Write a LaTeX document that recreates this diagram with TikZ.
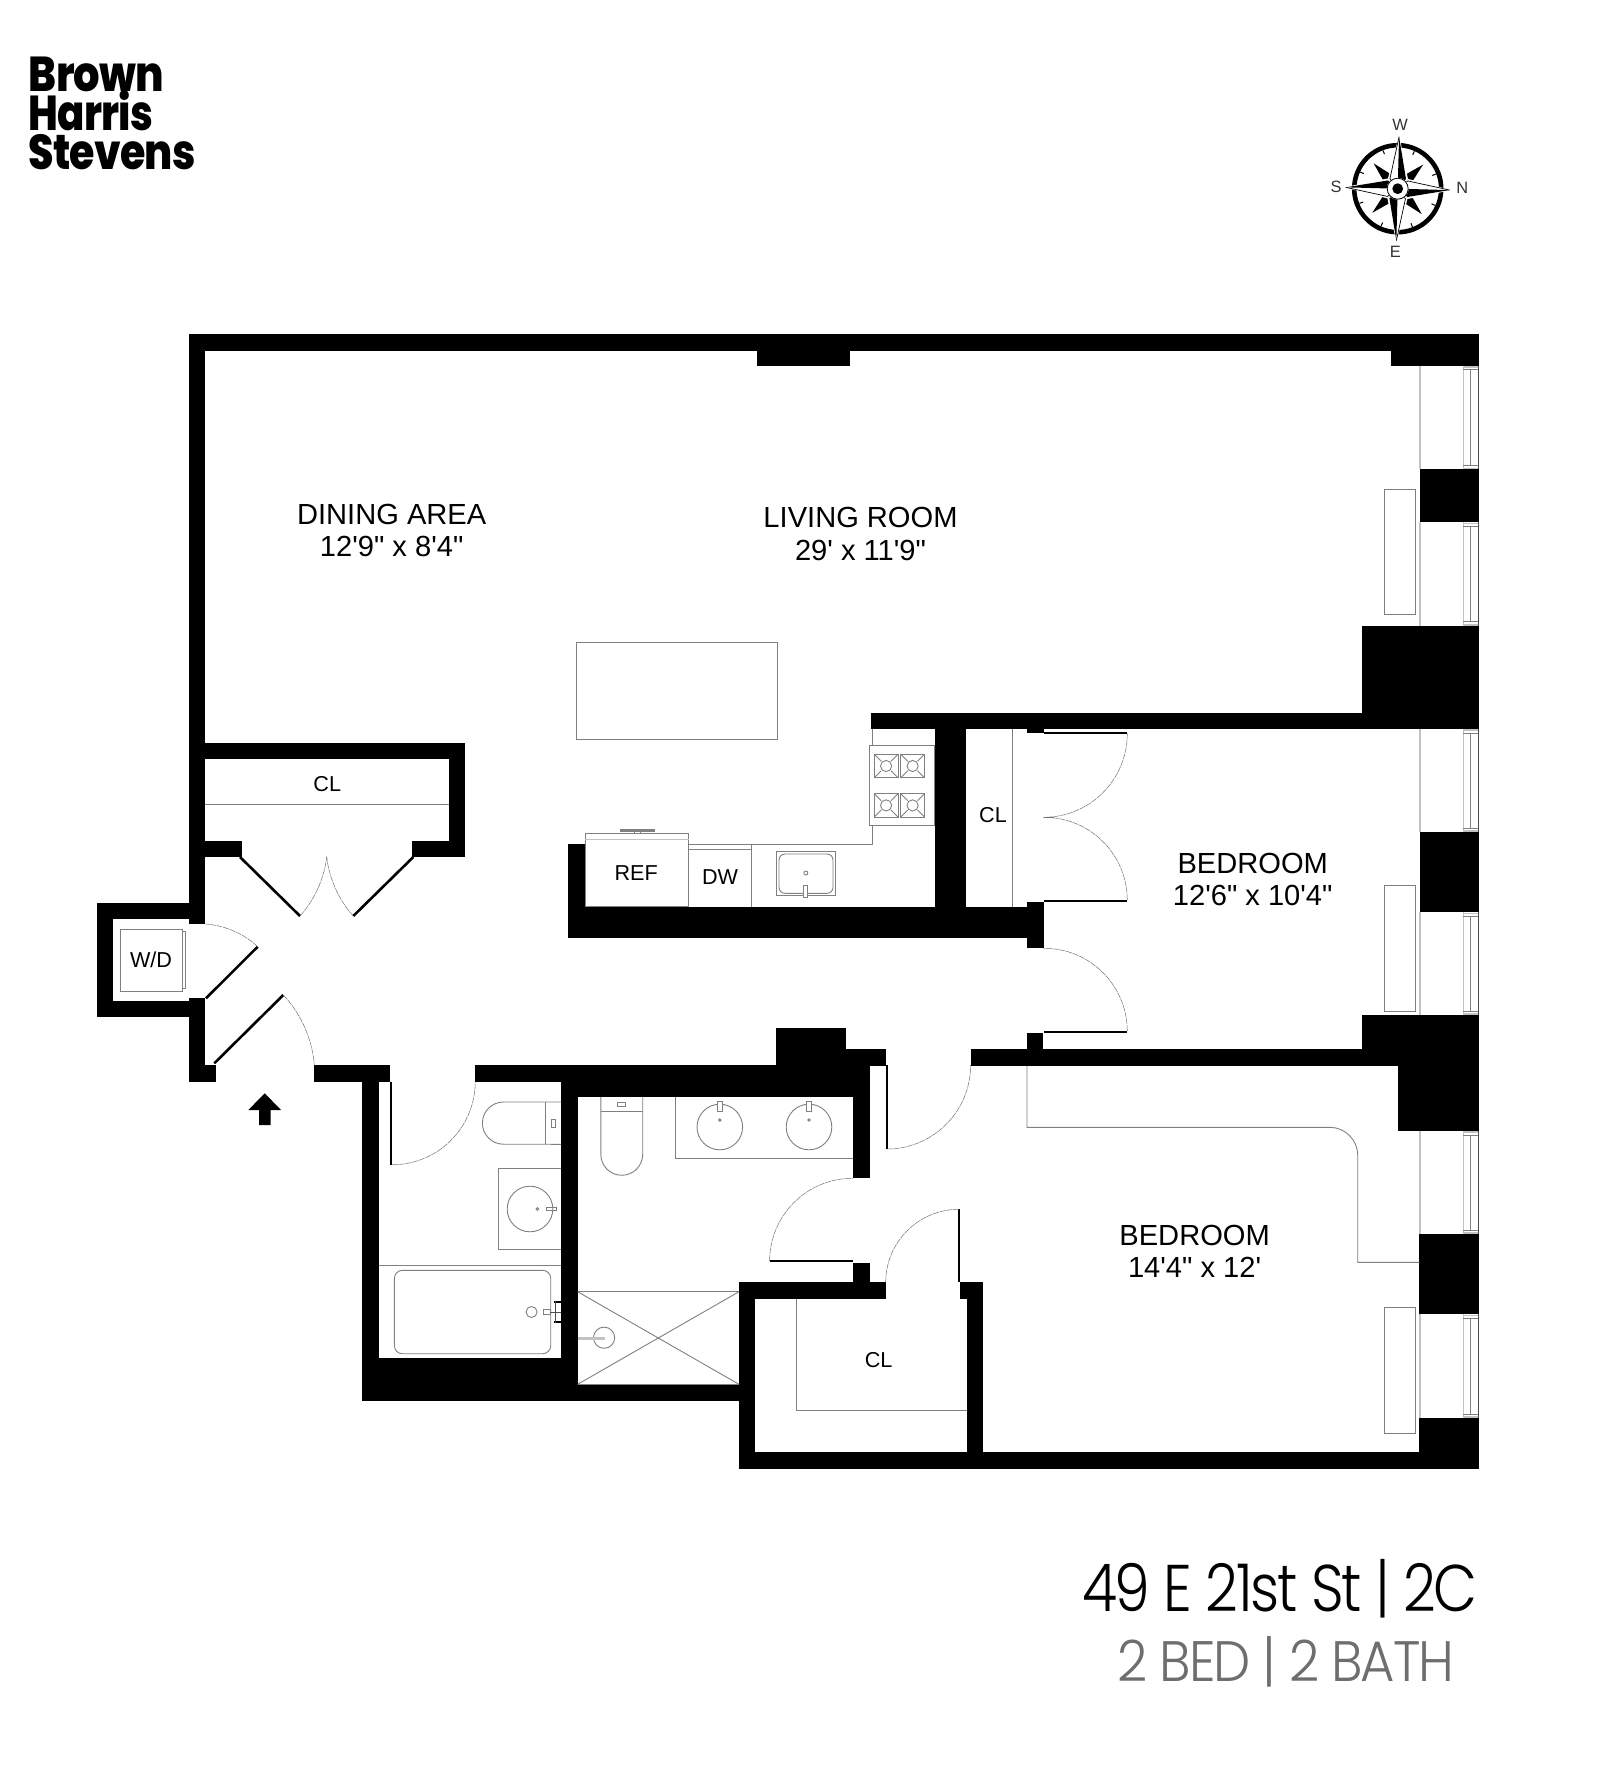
\documentclass[tikz,border=0pt]{standalone}
\usepackage{fontspec}
\usetikzlibrary{calc}
\setmainfont{Liberation Sans}[Ligatures=TeXOff]
\newfontfamily\logofont{Poppins}[UprightFont={* ExtraBold},LetterSpace=-2]
\newfontfamily\titlefont{Poppins}[UprightFont={* Light},LetterSpace=-4]
\newcommand{\wl}[4]{\fill[wallfill] (#1,#2) rectangle (#3,#4);}
\newcommand{\winbay}[2]{%
  \draw[sill] (1420,#1) -- (1420,#2);
  \draw[sill] (1463.3,#1) -- (1463.3,#2);
  \draw[sill] (1463.3,#1+1) -- (1478.3,#1+1);
  \draw[sill] (1463.3,#2-1) -- (1478.3,#2-1);
  \draw[fine] (1470.7,#1+4) -- (1470.7,#2-4);
  \draw[fine] (1463.3,#1+4) -- (1478.3,#1+4);
  \draw[fine] (1463.3,#2-4) -- (1478.3,#2-4);
  \draw[darkline] (1478.3,#1) -- (1478.3,#2);}
\definecolor{linegrey}{HTML}{808080}
\definecolor{sillgrey}{HTML}{C2C2C2}
\definecolor{bathgrey}{HTML}{6D6E6E}
\tikzset{
  wallfill/.style={fill=black},
  fine/.style={draw=linegrey,line width=0.45pt},
  sill/.style={draw=sillgrey,line width=0.8pt},
  darkline/.style={draw=black!70,line width=0.5pt},
  swing/.style={draw=black!55,line width=0.25pt,dash pattern=on 3pt off 0.4pt},
  leaf/.style={draw=black,line width=1.3pt},
  room/.style={font=\fontsize{14.55}{16.3}\selectfont,align=center,inner sep=0pt},
  tag/.style={font=\fontsize{10.8}{12}\selectfont,inner sep=0pt},
  compass/.style={font=\fontsize{8.2}{9}\selectfont,inner sep=0pt,text=black!80},
  logotext/.style={anchor=base west,inner sep=0pt,font=\logofont\fontsize{24.5}{24.5}\selectfont},
}
\begin{document}
\begin{tikzpicture}[x=0.5pt,y=-0.5pt]
\useasboundingbox (0,0) rectangle (1600,1785);
\fill[white] (0,0) rectangle (1600,1785);

% walls
\wl{189}{334}{1479}{350.5}
\wl{757}{350}{850}{365.5}
\wl{1390.7}{350}{1479}{365.7}
\wl{189}{334}{205.3}{924}
\wl{189}{998}{205.3}{1082}
\wl{189}{1065}{216}{1082}
\wl{205}{742.7}{465}{759}
\wl{448.7}{742.7}{465}{857}
\wl{412}{840.7}{465}{857}
\wl{205}{840.7}{242}{857}
\wl{97}{903}{189.5}{919.3}
\wl{97}{903}{113.3}{1017}
\wl{97}{1001}{189.5}{1017}
\wl{314}{1065}{390}{1082}
\wl{362.4}{1065}{379.4}{1401.3}
\wl{362.4}{1358.3}{577.6}{1401.3}
\wl{577}{1384.3}{739.5}{1401.3}
\wl{475.2}{1065}{869.5}{1081.7}
\wl{561}{1065}{869.5}{1097}
\wl{561}{1065}{577.6}{1401.3}
\wl{776.2}{1027.7}{846.3}{1065.5}
\wl{846}{1049.3}{886}{1065.5}
\wl{852.9}{1065}{869.5}{1178.3}
\wl{853}{1262.7}{869.5}{1282.5}
\wl{739}{1282.3}{885.7}{1298.7}
\wl{739}{1282.3}{755.3}{1468.5}
\wl{739}{1451.7}{1479}{1468.5}
\wl{966.5}{1298}{982.7}{1468}
\wl{960.3}{1282.3}{982.7}{1298.7}
\wl{970.6}{1049.3}{1362}{1066}
\wl{1361.7}{1015}{1479}{1066}
\wl{1398.3}{1015}{1479}{1131}
\wl{1361.7}{625.7}{1479}{729}
\wl{871}{712.7}{1362}{729}
\wl{934.7}{729}{966}{907}
\wl{568.2}{906.7}{1027.5}{938.3}
\wl{568.2}{844.3}{585.2}{907}
\wl{1027.3}{902.3}{1043.5}{948.3}
\wl{1027.3}{729}{1043.5}{732.7}
\wl{1027}{1032.7}{1043.3}{1050}
\wl{1419.5}{469.3}{1479}{522.3}
\wl{1420}{832}{1479}{912.3}
\wl{1419.3}{1234}{1479}{1314.3}
\wl{1419.3}{1418}{1479}{1468.5}

% door leaves
\wl{390}{1082}{392}{1164.7}
\wl{886}{1065}{888}{1149}
\wl{769.6}{1259.5}{853}{1262}
\wl{958.3}{1209.3}{960}{1282.3}
\wl{1043.5}{731.7}{1127.3}{734.3}
\wl{1043.5}{899.8}{1127.3}{902.3}
\wl{1043.5}{1030.5}{1127.3}{1033}
\draw[leaf] (240,857) -- (300,916);
\draw[leaf] (413.3,857) -- (353.3,916);
\draw[leaf] (206,998.3) -- (257.7,946.7);
\draw[leaf] (214.3,1063.3) -- (283.3,995);

% door swings
\draw[swing] (392,1164.7) to[bend right=45] (475.2,1082);
\draw[swing] (887,1149) to[bend right=45] (970.6,1065);
\draw[swing] (769.6,1261) to[bend left=45] (853,1178.3);
\draw[swing] (885.7,1282.3) to[bend left=45] (959,1209.3);
\draw[swing] (1127.3,733.3) to[bend left=45] (1043.5,817.3);
\draw[swing] (1127.3,900) to[bend right=45] (1043.5,817.3);
\draw[swing] (1043.5,817.3) -- (1054,817.3);
\draw[swing] (1127.3,1031) to[bend right=45] (1043.5,948.3);
\draw[swing] (283.3,995) to[bend left=20,looseness=0.85] (314.3,1065.3);
\draw[swing] (257.7,946.7) to[bend right=20,looseness=0.85] (205.3,924);
\draw[swing] (300,916) to[bend right=18,looseness=0.85] (326.7,856.7);
\draw[swing] (353.3,916) to[bend left=18,looseness=0.85] (326.7,856.7);

% windows and radiators
\winbay{365.7}{469.3}
\winbay{522.3}{625.7}
\winbay{729}{832}
\winbay{912.3}{1015}
\winbay{1131}{1234}
\winbay{1314.3}{1418}
\draw[fine] (1384.3,489) rectangle (1415,614.7);
\draw[fine] (1384.3,885.7) rectangle (1415,1011);
\draw[fine] (1384.3,1307.7) rectangle (1415,1433.3);

% closets
\draw[fine] (205.3,804.3) -- (448.7,804.3);
\draw[fine] (1012.6,729) -- (1012.6,906.7);
\draw[fine] (796.5,1298.7) -- (796.5,1410.3) -- (966.5,1410.3);
\draw[fine] (1027,1066) -- (1027,1127.3) -- (1330,1127.3)
   .. controls (1345,1127.3) and (1357.7,1140) .. (1357.7,1155)
   -- (1357.7,1262.3) -- (1419.3,1262.3);

% W/D
\draw[fine] (120,929) rectangle (182.3,991.3);
\draw[fine] (182.3,931.3) rectangle (185.3,988.7);

% kitchen
\draw[fine] (576.5,642) rectangle (777.8,739.3);
\draw[fine] (872.6,729) -- (872.6,844.3) -- (688.8,844.3);
\draw[fine] (585,833.3) rectangle (688.8,906.7);
\draw[sill] (585,839.3) -- (688.8,839.3);
\fill[linegrey] (619.6,829.3) rectangle (654.8,831.7);
\draw[fine] (634,831.7) rectangle (640,833.3);
\draw[fine] (688.8,849.7) -- (751.7,849.7);
\draw[fine] (751.7,844.3) -- (751.7,906.7);
\draw[fine,fill=white] (869.5,745.7) rectangle (934.7,825.7);
\foreach \bx/\by in {874.2/754.3,900.7/754.3,874.2/793.7,900.7/793.7}{
  \draw[fine] (\bx,\by) rectangle ++(23.8,23.4);
  \draw[fine] (\bx+11.9,\by+11.7) circle[radius=5.6];
  \draw[fine] (\bx,\by) -- ++(7,7);
  \draw[fine] (\bx+23.8,\by) -- ++(-7,7);
  \draw[fine] (\bx,\by+23.4) -- ++(7,-7);
  \draw[fine] (\bx+23.8,\by+23.4) -- ++(-7,-7);
}
\draw[fine] (776.6,851.7) rectangle (835.5,895.7);
\draw[fine,rounded corners=3pt] (779,854) rectangle (833,893.3);
\draw[fine] (805.8,873) circle[radius=2];
\draw[fine,fill=white] (803.9,885.7) rectangle (807.4,897.3);

% bath one
\draw[fine] (561,1102) -- (503.5,1102) arc[start angle=-90,end angle=-270,radius=21.1] -- (561,1144.3);
\draw[fine] (545.3,1102) -- (545.3,1144.3);
\draw[fine] (551,1119.3) rectangle (555.6,1127.7);
\draw[fine] (561,1168.3) -- (498.4,1168.3) -- (498.4,1249.3) -- (561,1249.3);
\draw[fine] (530,1209) circle[radius=22.8];
\draw[fine] (537.4,1209) circle[radius=1.3];
\draw[fine] (546,1207.7) rectangle (556,1210.3);
\draw[fine] (379.4,1265.3) -- (561,1265.3);
\draw[fine,rounded corners=4pt] (394.4,1270.3) rectangle (550.7,1353.7);
\draw[fine] (531.6,1312) circle[radius=5.5];
\draw[fine] (543,1309.5) rectangle (550,1314.5);
\draw[darkline] (550,1312) -- (561,1312);
\fill[black] (554.4,1300.7) rectangle (561,1303);
\fill[black] (554.4,1320.5) rectangle (561,1322.7);
\draw[darkline] (555.5,1300.7) -- (555.5,1322.7);

% bath two
\draw[fine] (600.8,1097) -- (600.8,1154.3) arc[start angle=180,end angle=0,radius=20.95] -- (642.7,1097);
\draw[fine] (600.8,1111.7) -- (642.7,1111.7);
\draw[fine] (617.4,1102.7) rectangle (625.7,1106.7);
\draw[fine] (675.5,1097) -- (675.5,1158.3) -- (852.9,1158.3);
\foreach \sx in {719.8,809}{
  \draw[fine] (\sx,1127) circle[radius=22.8];
  \draw[fine] (\sx,1120) circle[radius=1.3];
  \draw[fine,fill=white] (\sx-2.3,1101) rectangle (\sx+2.3,1111);
}
\draw[fine] (577.6,1291.7) -- (739,1291.7);
\draw[fine] (577.6,1384.3) -- (739,1384.3);
\draw[fine] (577.6,1291.7) -- (739,1384.3);
\draw[fine] (739,1291.7) -- (577.6,1384.3);
\draw[fine] (604.1,1337.7) circle[radius=10.6];
\fill[sillgrey] (577.6,1336.5) rectangle (605,1339.5);

% entry arrow
\fill[black] (264.8,1093.3) -- (281,1110) -- (270.7,1110) -- (270.7,1125) -- (259,1125) -- (259,1110) -- (248.3,1110) -- cycle;

% room labels
\node[room] (dining) at (391.7,530.5) {DINING AREA\\12'9" x 8'4"};
\node[room] (living) at (860.5,534) {LIVING ROOM\\29' x 11'9"};
\node[room] (bedone) at (1252.7,879.5) {BEDROOM\\12'6" x 10'4"};
\node[room] (bedtwo) at (1194.6,1251.5) {BEDROOM\\14'4" x 12'};
\node[tag] (clhall) at (327.3,784) {CL};
\node[tag] (clbed) at (993,815) {CL};
\node[tag] (clwalk) at (878.6,1360) {CL};
\node[tag] (wd) at (151,959.7) {W/D};
\node[tag] (ref) at (636.2,873) {REF};
\node[tag] (dw) at (720,877) {DW};

% logo
\node[logotext] (logoa) at (28.5,91.7) {\scalebox{0.85}[1]{Brown}};
\node[logotext] (logob) at (28.5,130) {\scalebox{0.82}[1]{Harris}};
\node[logotext] (logoc) at (28,169.3) {\scalebox{0.84}[1]{Stevens}};

% title
\node[anchor=base west,inner sep=0pt,font=\titlefont\fontsize{33}{33}\selectfont] (title) at (1081.7,1611.7) {\scalebox{0.865}[1]{49 E 21st St | 2C}};
\node[anchor=base west,inner sep=0pt,text=bathgrey,font=\titlefont\fontsize{28.5}{28.5}\selectfont] (sub) at (1116.7,1681.7) {\scalebox{0.925}[1]{2 BED | 2 BATH}};

% compass
\begin{scope}[shift={(1397.7,188.7)},rotate=-1.5]
  \draw[black,line width=2.3pt] (0,0) circle[radius=43.5];
  \foreach \a in {22.5,67.5,112.5,157.5,202.5,247.5,292.5,337.5}{
    \draw[black,line width=0.5pt,rotate=\a] (37,0) -- (41,0);
  }
  \foreach \a in {45,135,225,315}{
    \fill[black,rotate=\a] (35,0) -- (9,6.5) -- (0,0) -- (9,-6.5) -- cycle;
  }
  \foreach \a in {0,90,180,270}{
    \fill[white,rotate=\a] (54,0) -- (10,10) -- (0,0) -- (10,-10) -- cycle;
    \fill[black,rotate=\a] (52,0) -- (10,8) -- (0,0) -- cycle;
    \draw[black,line width=0.35pt,rotate=\a] (52,0) -- (10,-8) -- (0,0);
  }
  \fill[white] (0,0) circle[radius=11];
  \draw[black,line width=0.4pt] (0,0) circle[radius=10.5];
  \fill[black] (0,0) circle[radius=5.4];
\end{scope}
\node[compass] (cw) at (1400,125) {W};
\node[compass] (cn) at (1462.3,188.3) {N};
\node[compass] (cs) at (1336,187.3) {S};
\node[compass] (ce) at (1395.3,252) {E};
\end{tikzpicture}
\end{document}
